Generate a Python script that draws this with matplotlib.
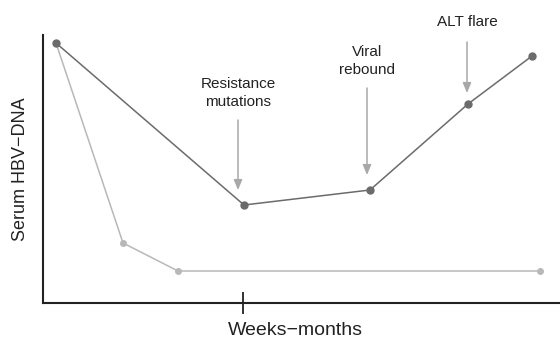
import matplotlib.pyplot as plt

plt.rcParams['font.family'] = ['Liberation Sans', 'DejaVu Sans']

# arbitrary units
resist_x = [13, 201, 327, 425, 489]
resist_y = [260, 98, 113, 199, 247]
resp_x = [13, 80, 135, 497]
resp_y = [260, 60, 32, 32]

# annotation labels, x position, text y, arrow top, arrow tip
ann_text = ['Resistance\nmutations', 'Viral\nrebound', 'ALT flare']
ann_x = [195, 324, 424]
ann_ty = [210, 242, 281]
ann_top = [183, 215, 261]
ann_tip = [113, 128, 210]

dark = '#6b6b6b'
light = '#b8b8b8'

fig = plt.figure(figsize=(5.6, 3.42), dpi=100)
ax = fig.add_axes([43 / 560, 39 / 342, 517 / 560, 268 / 342])
ax.set_xlim(0, 517)
ax.set_ylim(0, 268)

ax.plot(resp_x, resp_y, '-o', color=light, lw=1.1, ms=4, zorder=2)
ax.plot(resist_x, resist_y, '-o', color=dark, lw=1.1, ms=5, zorder=3)

for t, x, ty, top, tip in zip(ann_text, ann_x, ann_ty, ann_top, ann_tip):
    ax.text(x, ty, t, ha='center', va='center', fontsize=11,
            color='#222222', linespacing=1.4, clip_on=False)
    ax.annotate('', xy=(x, tip), xytext=(x, top),
                arrowprops=dict(arrowstyle='-|>,head_length=0.6,head_width=0.25',
                                color='#a8a8a8', lw=1.1, shrinkA=0, shrinkB=0),
                annotation_clip=False)

for s in ['top', 'right']:
    ax.spines[s].set_visible(False)
for s in ['left', 'bottom']:
    ax.spines[s].set_linewidth(1.5)
    ax.spines[s].set_color('#222222')

ax.set_xticks([200])
ax.set_xticklabels([''])
ax.set_yticks([])
ax.tick_params(axis='x', direction='inout', length=16, width=1.3, color='#222222')

ax.set_xlabel('Weeks\u2212months', fontsize=14, color='#222222')
ax.xaxis.set_label_coords(0.488, -0.07)
ax.set_ylabel('Serum HBV\u2212DNA', fontsize=13, labelpad=10, color='#222222')

fig.savefig('out.png', dpi=100)
